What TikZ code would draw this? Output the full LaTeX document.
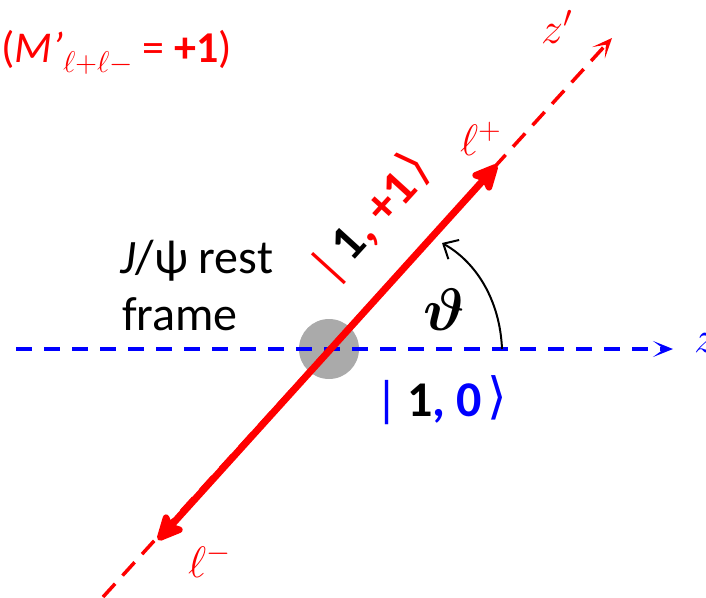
\RequirePackage{fix-cm}
\documentclass[tikz,border=0pt]{standalone}
\usepackage{fontspec}
\usepackage{bm}
\usetikzlibrary{arrows.meta}
\newfontfamily\carl{Carlito}
\newfontfamily\dejavu{DejaVu Sans}
\definecolor{pred}{RGB}{255,0,0}
\definecolor{pblue}{RGB}{0,0,255}
\definecolor{pgray}{RGB}{170,170,170}
\newcommand\ketclose[1]{\raisebox{3pt}{\dejavu\fontsize{50}{50}\selectfont\textcolor{#1}{⟩}}}
\begin{document}
\begin{tikzpicture}[x=1pt,y=1pt,
  redaxis/.style={pred, line width=3.5pt, dash pattern=on 18pt off 11pt},
  blueaxis/.style={pblue, line width=4pt, dash pattern=on 16pt off 12pt},
  lepton/.style={pred, line width=7pt},
  ketfont/.style={font=\carl\fontsize{50}{50}\selectfont, inner sep=0pt},
  mathlab/.style={pred, inner sep=0pt, font=\fontsize{44}{44}\selectfont}]
\useasboundingbox (0,0) rectangle (706,-597);

% J/psi at rest
\node[circle, fill=pgray, minimum size=60pt, inner sep=0pt] (jpsi) at (329,-349) {};

% lab z axis
\coordinate (zs) at (16,-349);
\coordinate (ze) at (673,-349);
\draw[blueaxis, -{Stealth[length=20pt,width=16pt,inset=11pt]}] (zs) -- (ze);
\node[pblue, anchor=base west, inner sep=0pt, font=\fontsize{44}{44}\selectfont] (zlab) at (694,-352) {$z$};

% helicity axis z'
\coordinate (zpb) at (103,-597);
\coordinate (zpe) at (612,-38);
\draw[redaxis, -{Stealth[length=20pt,width=17pt,inset=11pt]}] (zpb) -- (zpe);
\node[mathlab, anchor=base west] (zplab) at (541,-43) {$z'$};

% leptons
\coordinate (lp) at (497,-165);
\coordinate (lm) at (158,-540);
\draw[lepton, {Stealth[length=32pt,width=30pt,inset=6pt,round]}-{Stealth[length=32pt,width=30pt,inset=6pt,round]}] (lm) -- (lp);
\node[mathlab, anchor=base west] (lplab) at (460,-155) {$\ell^+$};
\node[mathlab, anchor=base west] (lmlab) at (188,-577) {$\ell^-$};

% angle
\coordinate (a0) at (502,-349);
\coordinate (a1) at (442,-243);
\draw[line width=2pt, -{Straight Barb[length=12pt,width=22pt]}] (a0) .. controls (500,-300) and (476,-262) .. (a1);
\node[anchor=base west, inner sep=0pt, font=\fontsize{60}{60}\selectfont] (th) at (423,-330) {$\bm{\vartheta}$};

% kets
\node[ketfont, anchor=base, rotate=47.7] (ketp) at (383,-229)
  {\textcolor{pred}{|}\hspace{8pt}\textbf{1}\textcolor{pred}{\textbf{, +1}}\hspace{4pt}\ketclose{pred}};
\node[ketfont, anchor=base] (ket0) at (441,-416)
  {\textcolor{pblue}{|}\hspace{9pt}\textbf{1}\textcolor{pblue}{\textbf{, 0}}\hspace{5pt}\ketclose{pblue}};

% rest frame text
\node[anchor=base west, inner sep=0pt, font=\carl\fontsize{48}{48}\selectfont] (rf1) at (120,-273) {\textit{J}/ψ rest};
\node[anchor=base west, inner sep=0pt, font=\carl\fontsize{48}{48}\selectfont] (rf2) at (122,-330) {frame};

% title
\node[pred, anchor=base west, inner sep=0pt, font=\carl\fontsize{44}{44}\selectfont] (title) at (1,-62)
  {(\textit{M’}\raisebox{-10pt}{\fontsize{30}{30}\selectfont$\ell{+}\ell{-}$} = \textbf{+1})};
\end{tikzpicture}
\end{document}
